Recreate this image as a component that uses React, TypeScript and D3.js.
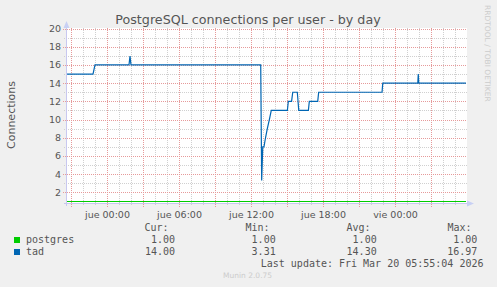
import React from 'react';
import * as d3 from 'd3';

// time in hours relative to "jue 00:00"
const tadHours = [-3.333, -1.167, -1.0, 1.833, 1.917, 2.0, 12.81, 12.89, 12.98, 13.08, 13.21, 13.36, 13.53, 13.69, 15.03, 15.11, 15.38, 15.48, 15.86, 15.98, 16.78, 16.86, 17.56, 17.64, 22.92, 22.98, 25.9, 25.94, 25.98, 29.92];
const tadValues = [15, 15, 16, 16, 16.97, 16, 16, 3.31, 7, 7.0, 8, 9, 10, 11, 11, 12, 12, 13, 13, 11, 11, 12, 12, 13, 13, 14, 14, 15, 14, 14];
const postgresHours = [-3.333, 29.92];
const postgresValues = [1, 1];

const yTickValues = [2, 4, 6, 8, 10, 12, 14, 16, 18, 20];
const xTickHours = [0, 6, 12, 18, 24];
const xTickLabels = ['jue 00:00', 'jue 06:00', 'jue 12:00', 'jue 18:00', 'vie 00:00'];

const seriesNames = ['postgres', 'tad'];
const seriesColors = ['#00cc00', '#0066b3'];
const curValues = ['1.00', '14.00'];
const minValues = ['1.00', '3.31'];
const avgValues = ['1.00', '14.30'];
const maxValues = ['1.00', '16.97'];

const W = 497;
const H = 287;
const L = 67, R = 467, T = 28.5, B = 201.5;

export default function App() {
  const x = d3.scaleLinear().domain([-10 / 3, 30]).range([L, R]);
  const y = d3.scaleLinear().domain([1, 20]).range([B, T]);
  const line = d3.line<[number, number]>().x(d => x(d[0])).y(d => y(d[1]));
  const tadPts = tadHours.map((h, i) => [h, tadValues[i]] as [number, number]);
  const pgPts = postgresHours.map((h, i) => [h, postgresValues[i]] as [number, number]);

  const hourLines = d3.range(-3, 30, 1);
  const valLines = d3.range(2, 21, 1);
  const px = (v: number) => Math.round(v) + 0.5;
  const axisY = 203.5;
  const gridTop = 28;

  const sans = 'DejaVu Sans, sans-serif';
  const mono = 'DejaVu Sans Mono, monospace';
  const txt = '#555555';

  const cols = [
    { head: 'Cur:', hx: 168.5, vx: 175, vals: curValues },
    { head: 'Min:', hx: 269.5, vx: 275.7, vals: minValues },
    { head: 'Avg:', hx: 370.5, vx: 376.7, vals: avgValues },
    { head: 'Max:', hx: 471.5, vx: 477.3, vals: maxValues },
  ];
  const rowY = [242.5, 254.5];

  return (
    <svg width={W} height={H} style={{ position: 'fixed', left: 0, top: 0, background: '#f0f0f0' }}>
      <rect x={0} y={0} width={W} height={H} fill="#f0f0f0" />
      <rect x={L} y={T - 0.5} width={R - L} height={axisY - T} fill="#ffffff" />
      {/* minor grid */}
      {hourLines.filter(h => h % 3 !== 0).map(h => (
        <line key={'vm' + h} x1={px(x(h))} x2={px(x(h))} y1={gridTop} y2={206} stroke="#d0d0d0" strokeDasharray="1,1" />
      ))}
      {valLines.filter(v => v % 2 !== 0).map(v => (
        <line key={'hm' + v} x1={64} x2={R} y1={px(y(v))} y2={px(y(v))} stroke="#d0d0d0" strokeDasharray="1,1" />
      ))}
      {/* major grid */}
      {hourLines.filter(h => h % 3 === 0).map(h => (
        <line key={'vM' + h} x1={px(x(h))} x2={px(x(h))} y1={gridTop} y2={207} stroke="#e69a9a" strokeDasharray="1,1" />
      ))}
      {valLines.filter(v => v % 2 === 0).map(v => (
        <line key={'hM' + v} x1={63} x2={R} y1={px(y(v))} y2={px(y(v))} stroke="#e69a9a" strokeDasharray="1,1" />
      ))}
      {/* axes */}
      <line x1={66.5} x2={66.5} y1={26} y2={206} stroke="#c8c8f0" />
      <path d="M63.5,28 L66.5,21 L69.5,28 Z" fill="#c8d0f4" />
      <line x1={64} x2={469} y1={axisY} y2={axisY} stroke="#c8c8f0" />
      <path d="M467,200.5 L474,203.5 L467,206.5 Z" fill="#c8d0f4" />
      {/* series */}
      <path d={line(pgPts) || ''} fill="none" stroke={seriesColors[0]} strokeWidth={1.2} />
      <path d={line(tadPts) || ''} fill="none" stroke={seriesColors[1]} strokeWidth={1.2} />
      {/* y ticks */}
      {yTickValues.map(v => (
        <text key={'yt' + v} x={61} y={y(v) + 3.5} textAnchor="end" fontFamily={sans} fontSize={9.5} fill={txt}>{v}</text>
      ))}
      {xTickHours.map((h, i) => (
        <text key={'xt' + h} x={x(h) + 0.5} y={218} textAnchor="middle" fontFamily={sans} fontSize={9.5} fill={txt}>{xTickLabels[i]}</text>
      ))}
      {/* title */}
      <text x={248} y={24} textAnchor="middle" fontFamily={sans} fontSize={12.7} fill={txt}>PostgreSQL connections per user - by day</text>
      <text transform="translate(15,115) rotate(-90)" textAnchor="middle" fontFamily={sans} fontSize={11} fill={txt}>Connections</text>
      <text transform="translate(485,5) rotate(90)" textAnchor="start" fontFamily={sans} fontSize={7.5} fill="#cccccc">RRDTOOL / TOBI OETIKER</text>
      {/* legend */}
      {cols.map(c => (
        <text key={c.head} x={c.hx} y={230.5} textAnchor="end" fontFamily={mono} fontSize={10} fill={txt}>{c.head}</text>
      ))}
      {seriesNames.map((n, i) => (
        <g key={n}>
          <rect x={14} y={rowY[i] - 5.5} width={6} height={6} fill={seriesColors[i]} />
          <text x={26} y={rowY[i]} fontFamily={mono} fontSize={10} fill={txt}>{n}</text>
          {cols.map(c => (
            <text key={c.head} x={c.vx} y={rowY[i]} textAnchor="end" fontFamily={mono} fontSize={10} fill={txt}>{c.vals[i]}</text>
          ))}
        </g>
      ))}
      <text x={483.5} y={267} textAnchor="end" fontFamily={mono} fontSize={10} fill={txt}>Last update: Fri Mar 20 05:55:04 2026</text>
      <text x={223} y={278} fontFamily={sans} fontSize={7.5} fill="#cccccc">Munin 2.0.75</text>
    </svg>
  );
}
